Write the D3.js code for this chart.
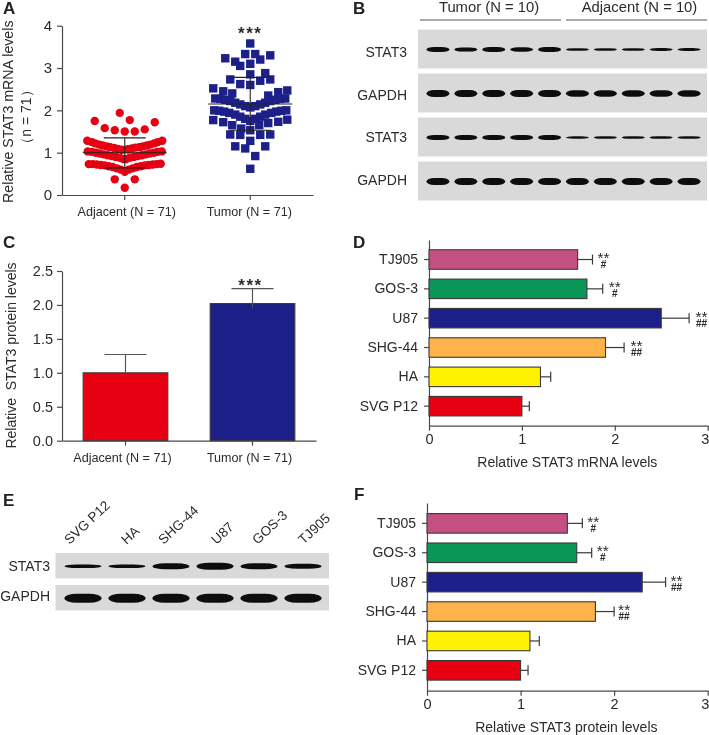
<!DOCTYPE html>
<html><head><meta charset="utf-8">
<script src="https://cdn.jsdelivr.net/npm/d3@7/dist/d3.min.js"></script>
<style>
html,body{margin:0;padding:0;background:#fff}
svg{display:block;filter:blur(0.35px)}
text{font-family:"Liberation Sans",Arial,sans-serif;fill:#2b2b2b;white-space:pre}
.panel{font-weight:bold;font-size:17px;fill:#222}
.axis path,.axis line{stroke:#4a4a4a;stroke-width:1.2;fill:none}
.axis text{fill:#2b2b2b}
</style></head><body>
<svg id="c" width="709" height="735"></svg>
<script>
// ---------- Data ----------
const groupsAC = ["Adjacent (N = 71)", "Tumor (N = 71)"];
const adjacentValues = [1.94,1.77,1.75,1.72,1.58,1.53,1.5,1.5,1.55,
 1.28,1.25,1.22,1.19,1.17,1.15,1.13,1.11,1.09,1.07,1.08,1.1,1.12,1.13,1.15,1.17,1.19,1.22,1.25,1.28,
 1.03,1.02,1.0,0.98,0.96,0.94,0.92,0.9,0.88,0.85,0.85,0.88,0.9,0.92,0.94,0.96,0.98,1.0,1.02,1.03,
 0.73,0.73,0.72,0.71,0.7,0.68,0.66,0.63,0.6,0.55,0.6,0.63,0.66,0.68,0.7,0.71,0.72,0.73,0.74,
 0.37,0.37,0.17];
const adjacentOffsets = [-0.5,0.5,-3,3,-2,-1,0,1,2,
 -3.75,-3.3,-2.95,-2.55,-2.2,-1.8,-1.45,-1.05,-0.7,-0.3,0.3,0.7,1.05,1.45,1.8,2.2,2.55,2.95,3.3,3.75,
 -3.7,-3.3,-2.9,-2.5,-2.1,-1.7,-1.3,-0.9,-0.5,-0.15,0.15,0.5,0.9,1.3,1.7,2.1,2.5,2.9,3.3,3.7,
 -3.6,-3.2,-2.8,-2.4,-2,-1.6,-1.2,-0.8,-0.4,0,0.4,0.8,1.2,1.6,2,2.4,2.8,3.2,3.6,
 -1,1,0];
const tumorValues = [3.58,3.33,3.33,3.3,3.23,3.15,3.2,3.05,3.1,2.85,2.88,2.73,2.7,2.73,2.62,2.6,
 2.52,2.45,2.4,2.47,2.43,2.35,
 2.28,2.27,2.25,2.22,2.18,2.14,2.1,2.07,2.1,2.14,2.18,2.22,2.25,2.27,2.28,
 2.0,1.99,1.97,1.94,1.9,1.85,1.8,1.75,1.8,1.85,1.9,1.94,1.97,1.99,2.0,
 1.77,1.72,1.65,1.78,1.73,1.7,1.65,1.57,1.53,
 1.43,1.42,1.42,1.43,1.28,1.15,1.15,1.1,0.92,0.62];
const tumorOffsets = [0,-0.5,0.5,2,-2.5,-1.5,1,-1,0,0,1.5,-2,1,2,-1,0,
 -3.7,-2.7,-1.8,3.7,2.8,1.8,
 -3.5,-3,-2.5,-2,-1.5,-1,-0.5,0,0.5,1,1.5,2,2.5,3,3.5,
 -3.6,-3.1,-2.6,-2.1,-1.5,-1,-0.5,0,0.5,1,1.5,2.1,2.6,3.1,3.6,
 -3.7,-2.7,-1.8,3.7,2.8,1.8,0.9,-0.9,0,
 -2,-1,1,2,0,-1.5,1.5,-0.5,0.5,0];
const meanA = [1.0, 2.15];
const upperA = [1.35, 2.78];
const lowerA = [0.64, 1.53];

const proteinMeans = [1.0, 2.02];
const proteinUpper = [1.27, 2.24];
const proteinLower = [1.0, 1.96];

const cellLines = ["TJ905","GOS-3","U87","SHG-44","HA","SVG P12"];
const cellColors = ["#c44f83","#0a9656","#1d2088","#fdb24a","#fff200","#e60012"];
const mrnaValues = [1.6,1.7,2.5,1.9,1.2,1.0];
const mrnaErrors = [1.76,1.87,2.8,2.1,1.31,1.08];
const proteinCellValues = [1.5,1.6,2.3,1.8,1.1,1.0];
const proteinCellErrors = [1.66,1.76,2.55,2.0,1.2,1.08];
const starMarks = ["**","**","**","**","",""];
const hashMarks = ["#","#","##","##","",""];

const lanesB = d3.range(10);
const rowsB = ["STAT3","GAPDH","STAT3","GAPDH"];
const bandThicknessB = [
 [5,4,5,4.5,5,2.6,2.6,2.6,3,3],
 [7,7,7,7,7,6.5,6.5,6.5,6.5,6.5],
 [5,5,5,5,5,2.4,2.6,2.6,2.6,2.6],
 [7,7,7,7,7,7,7,7,7,7]];
const lanesE = ["SVG P12","HA","SHG-44","U87","GOS-3","TJ905"];
const rowsE = ["STAT3","GAPDH"];
const bandThicknessE = [[3.5,3.5,6,7,6,5],[9,9,9,9,9,9]];

// ---------- Helpers ----------
const svg = d3.select("#c");
const defs = svg.append("defs");
defs.append("filter").attr("id","blot").attr("x","-20%").attr("y","-100%").attr("width","140%").attr("height","300%")
  .append("feGaussianBlur").attr("stdDeviation",0.6);
const INK = "#3a3a3a";
const label = (x,y,t)=>svg.append("text").attr("class","panel").attr("x",x).attr("y",y).text(t);
function vText(x,y,t,size){
  svg.append("text").attr("transform",`translate(${x},${y}) rotate(-90)`).attr("text-anchor","middle")
    .style("font-size",size+"px").text(t);
}
function styleAxis(g,size){ g.attr("class","axis"); g.selectAll("text").style("font-size",size+"px"); return g; }

// ---------- A ----------
label(3,14,"A");
{
  const y = d3.scaleLinear().domain([0,4]).range([195,25.7]);
  const x = d3.scaleBand().domain(groupsAC).range([62,313]);
  const off = d3.scaleLinear().domain([-1,1]).range([-10,10]);
  const cx = i=>x(groupsAC[i])+x.bandwidth()/2;
  styleAxis(svg.append("g").attr("transform","translate(62,0)").call(d3.axisLeft(y).ticks(4).tickSize(5).tickSizeOuter(0).tickPadding(5).tickFormat(d3.format("d"))),15);
  styleAxis(svg.append("g").attr("transform","translate(0,195)").call(d3.axisBottom(x).tickSize(5).tickSizeOuter(0).tickPadding(7)),12.6)
    .selectAll(".tick text").attr("dx",(d,i)=>[2,-1][i]);
  svg.append("g").selectAll("circle").data(adjacentValues).join("circle")
    .attr("cx",(d,i)=>cx(0)+off(adjacentOffsets[i])).attr("cy",d=>y(d)).attr("r",4.2).attr("fill","#e60012");
  svg.append("g").selectAll("rect").data(tumorValues).join("rect")
    .attr("x",(d,i)=>cx(1)+off(tumorOffsets[i])-4.2).attr("y",d=>y(d)-4.2).attr("width",8.4).attr("height",8.4).attr("fill","#1d2088");
  [0,1].forEach(i=>{
    const g = svg.append("g").attr("stroke","#222").attr("stroke-width",1.1);
    g.append("line").attr("x1",cx(i)-42).attr("x2",cx(i)+42).attr("y1",y(meanA[i])).attr("y2",y(meanA[i]));
    g.append("line").attr("x1",cx(i)).attr("x2",cx(i)).attr("y1",y(upperA[i])).attr("y2",y(lowerA[i]));
    [upperA[i],lowerA[i]].forEach(v=>g.append("line").attr("x1",cx(i)-21).attr("x2",cx(i)+21).attr("y1",y(v)).attr("y2",y(v)));
  });
  svg.append("text").attr("x",cx(1)).attr("y",y(3.78)+4).attr("text-anchor","middle")
    .style("font-size","17px").style("font-weight","bold").style("letter-spacing","1.5px").text("***");
  vText(13,111.7,"Relative STAT3 mRNA levels",14.2);
  vText(31,117,"（n = 71）",14);
}

// ---------- B ----------
label(353,14,"B");
function blot(rowTops,rowH,xLeft,xRight,laneScale,rows,thick,bandW,labelX,labelSize,labelDy){
  rows.forEach((name,r)=>{
    const top = rowTops[r];
    svg.append("rect").attr("x",xLeft).attr("y",top).attr("width",xRight-xLeft).attr("height",rowH).attr("fill","#d9d9d9");
    svg.append("g").attr("filter","url(#blot)").selectAll("rect").data(thick[r]).join("rect")
      .attr("x",(d,i)=>laneScale(i)+laneScale.bandwidth()/2-bandW/2)
      .attr("width",bandW)
      .attr("y",d=>top+rowH/2-d/2+0.5).attr("height",d=>d).attr("rx",bandW/3).attr("ry",d=>d/2)
      .attr("fill","#0c0c0c");
    svg.append("text").attr("x",labelX).attr("y",top+rowH/2+5+labelDy[r]).attr("text-anchor","end").style("font-size",labelSize+"px").text(name);
  });
}
{
  const lane = d3.scaleBand().domain(lanesB).range([424,703]);
  blot([29.5,73.5,117.5,161.5],39,418,707,lane,rowsB,bandThicknessB,23,407,14,[3,2,0,-1]);
  svg.append("text").attr("x",489).attr("y",11.5).attr("text-anchor","middle").style("font-size","14.8px").text("Tumor (N = 10)");
  svg.append("text").attr("x",639.5).attr("y",11.5).attr("text-anchor","middle").style("font-size","14.8px").text("Adjacent (N = 10)");
  [[420,561],[566,707]].forEach(([a,b])=>svg.append("line").attr("x1",a).attr("x2",b).attr("y1",20).attr("y2",20).attr("stroke","#555").attr("stroke-width",1.1));
}

// ---------- C ----------
label(3,248,"C");
{
  const y = d3.scaleLinear().domain([0,2.5]).range([440.7,271]);
  const x = d3.scaleBand().domain(groupsAC).range([62,316]).paddingInner(1/3).paddingOuter(1/6);
  styleAxis(svg.append("g").attr("transform","translate(62,0)").call(d3.axisLeft(y).tickValues([0,0.5,1,1.5,2,2.5]).tickSize(5).tickSizeOuter(0).tickPadding(4).tickFormat(d3.format(".1f"))),14.5);
  styleAxis(svg.append("g").attr("transform","translate(0,440.7)").call(d3.axisBottom(x).tickSize(5).tickSizeOuter(0).tickPadding(7)),12.6)
    .selectAll(".tick text").attr("dx",-3);
  const colors = ["#e60012","#1d2088"];
  groupsAC.forEach((g,i)=>{
    const c = x(g)+x.bandwidth()/2;
    svg.append("rect").attr("x",x(g)).attr("width",x.bandwidth()).attr("y",y(proteinMeans[i])).attr("height",y(0)-y(proteinMeans[i]))
      .attr("fill",colors[i]).attr("stroke",INK).attr("stroke-width",1.1);
    svg.append("line").attr("x1",c).attr("x2",c).attr("y1",y(proteinUpper[i])).attr("y2",y(proteinLower[i])).attr("stroke","#555").attr("stroke-width",1.2);
    svg.append("line").attr("x1",c-21).attr("x2",c+21).attr("y1",y(proteinUpper[i])).attr("y2",y(proteinUpper[i])).attr("stroke","#555").attr("stroke-width",1.2);
  });
  svg.append("text").attr("x",x(groupsAC[1])+x.bandwidth()/2-2).attr("y",y(2.24)+2.5).attr("text-anchor","middle")
    .style("font-size","17px").style("font-weight","bold").style("letter-spacing","1.5px").text("***");
  vText(15.7,355.5,"Relative  STAT3 protein levels",14);
}

// ---------- D / F ----------
function hbar(opts){
  const {x0,x3,top,bottom,outer,values,errors,title,titleY,starGap}=opts;
  const x = d3.scaleLinear().domain([0,3]).range([x0,x3]);
  const y = d3.scaleBand().domain(cellLines).range([top,bottom]).paddingInner(0.335).paddingOuter(outer);
  styleAxis(svg.append("g").attr("transform",`translate(${x0},0)`).call(d3.axisLeft(y).tickSize(5).tickSizeOuter(0).tickPadding(6)),14);
  styleAxis(svg.append("g").attr("transform",`translate(0,${bottom})`).call(d3.axisBottom(x).ticks(3).tickSize(5).tickSizeOuter(0).tickPadding(3).tickFormat(d3.format("d"))),14.5)
    .selectAll(".tick text").attr("dx",d=>d===3?-3:0);
  const g = svg.append("g");
  cellLines.forEach((n,i)=>{
    const c = y(n)+y.bandwidth()/2;
    g.append("line").attr("x1",x(values[i])).attr("x2",x(errors[i])).attr("y1",c).attr("y2",c).attr("stroke",INK).attr("stroke-width",1.2);
    g.append("line").attr("x1",x(errors[i])).attr("x2",x(errors[i])).attr("y1",c-5).attr("y2",c+5).attr("stroke",INK).attr("stroke-width",1.2);
    g.append("rect").attr("x",x(0)).attr("width",x(values[i])-x(0)).attr("y",y(n)).attr("height",y.bandwidth())
      .attr("fill",cellColors[i]).attr("stroke",INK).attr("stroke-width",1.1);
    if(starMarks[i]){
      const ax = x(errors[i])+starGap[i];
      const t = g.append("text").attr("text-anchor","middle");
      t.append("tspan").attr("x",ax).attr("y",c+3.5).style("font-size","15.5px").text(starMarks[i]);
      t.append("tspan").attr("x",ax).attr("y",c+8.5).style("font-size","10px").style("font-weight","bold").text(hashMarks[i]);
    }
  });
  svg.append("text").attr("x",(x0+x3)/2-1).attr("y",titleY).attr("text-anchor","middle").style("font-size","14px").text(title);
}
label(353,248,"D");
hbar({x0:429,x3:707.7,top:240,bottom:425.7,outer:0.333,values:mrnaValues,errors:mrnaErrors,
  title:"Relative STAT3 mRNA levels",titleY:467,starGap:[11,12,12.5,12.5]});
label(354,500,"F");
hbar({x0:427,x3:707.7,top:503,bottom:690.7,outer:0.36,values:proteinCellValues,errors:proteinCellErrors,
  title:"Relative STAT3 protein levels",titleY:732,starGap:[11,11,11,10]});

// ---------- E ----------
label(3,506,"E");
{
  const lane = d3.scaleBand().domain(d3.range(6)).range([61,325]);
  blot([553,585],25.5,55.5,329,lane,rowsE,bandThicknessE,37,50,14,[0,-2]);
  const nudge = [-13.5,-0.5,-7.5,1.5,-1.5,0.5];
  lanesE.forEach((n,i)=>{
    svg.append("text")
      .attr("transform",`translate(${lane(i)+lane.bandwidth()/2+nudge[i]},545) rotate(-43)`)
      .style("font-size","13.5px").text(n);
  });
}
</script>
</body></html>
